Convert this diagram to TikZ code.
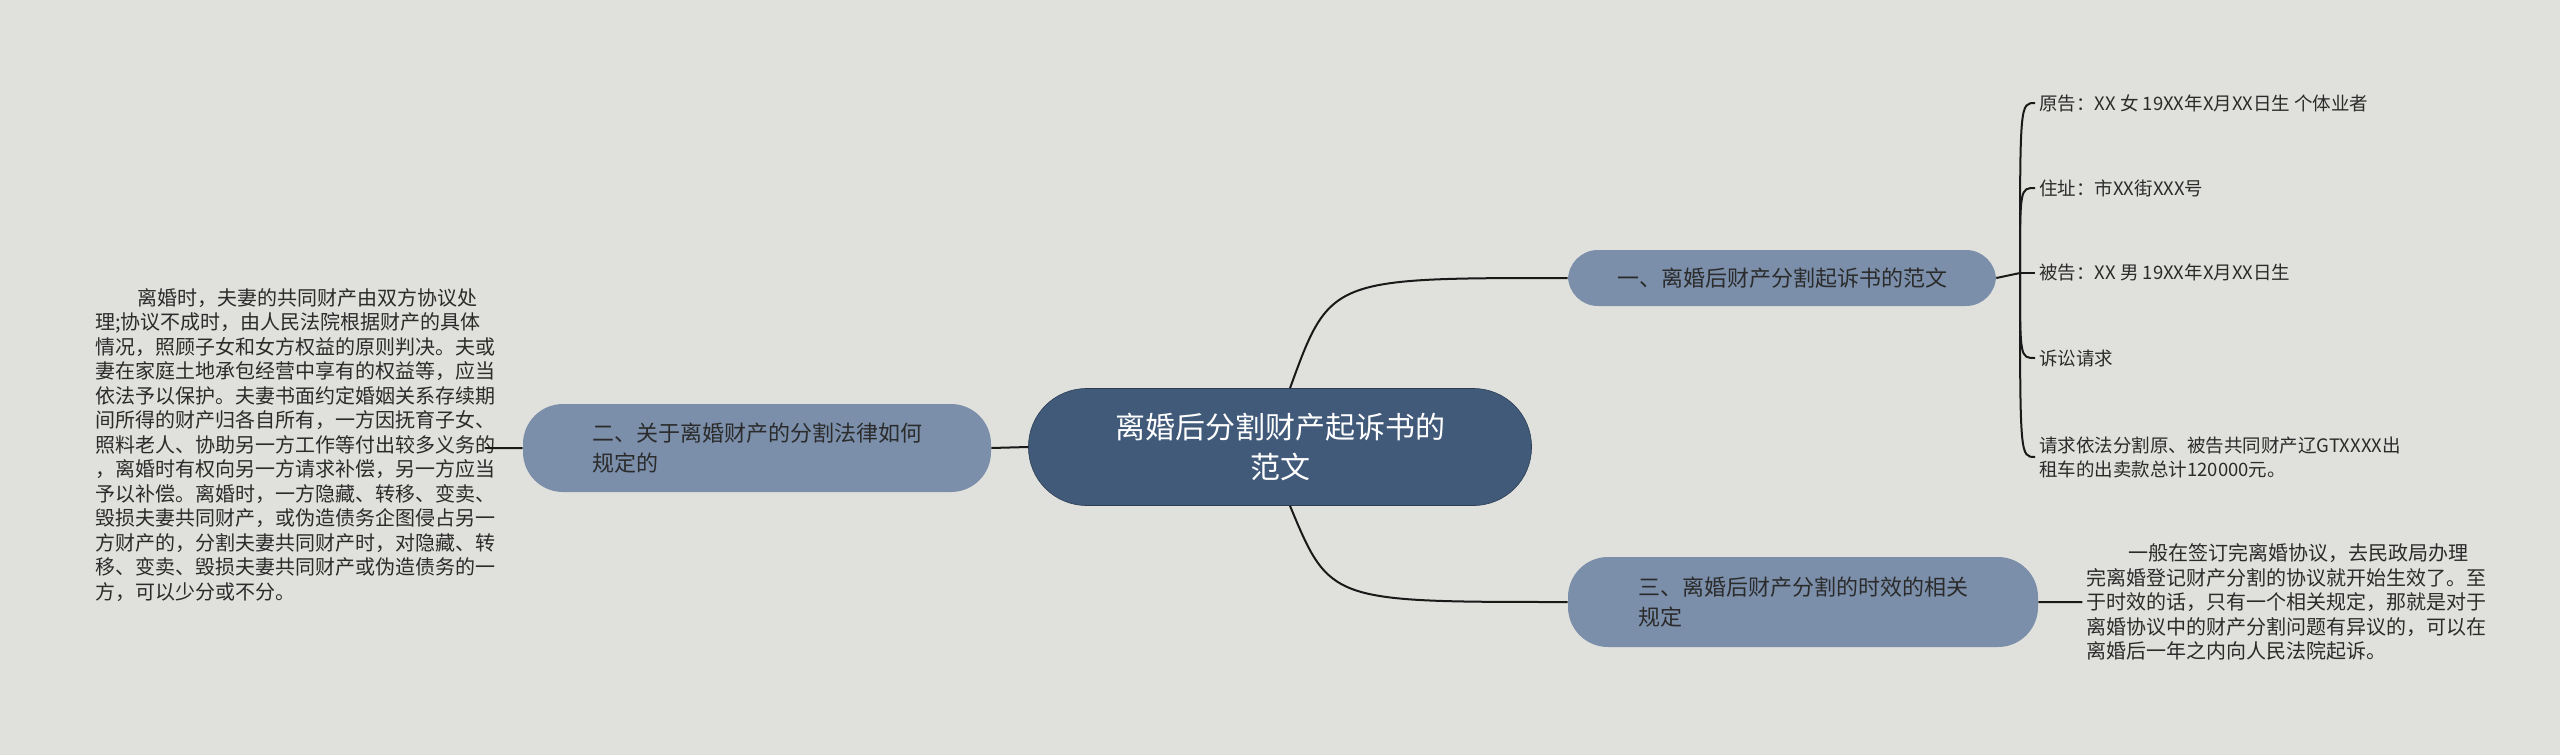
\documentclass[tikz,border=0pt]{standalone}
\usepackage{fontspec}
\setmainfont{Noto Sans CJK SC}
\usetikzlibrary{positioning,calc}
\definecolor{bgcol}{HTML}{E0E1DC}
\definecolor{rootcol}{HTML}{415A7A}
\definecolor{subcol}{HTML}{7B8FAB}
\definecolor{txtcol}{HTML}{2B2B2B}
\begin{document}
\begin{tikzpicture}[
		x=1pt,y=-1pt,
		semithick,
		root/.style={rounded corners=58pt,fill=rootcol,draw=rootcol!70!black,text=white,minimum width=503pt,minimum height=117pt,align=center,font=\fontsize{30}{40}\selectfont},
		sub/.style={rounded corners=30pt,fill=subcol,text=txtcol,minimum height=56pt,align=left,font=\fontsize{22}{30}\selectfont},
		leaf/.style={anchor=west,inner sep=0pt,text=txtcol,align=left,font=\fontsize{18.5}{24}\selectfont},
		note/.style={inner sep=0pt,text=txtcol,align=left,font=\fontsize{20}{24.5}\selectfont},
		link/.style={draw=black!90,line width=2pt}
		]
		\fill[bgcol] (0,0) rectangle (2560,755);
		\useasboundingbox (0,0) rectangle (2560,755);
		\node[root](r) at (1280,447){离婚后分割财产起诉书的\\范文};
		\node[sub,minimum width=428pt](s1) at (1782,278){一、离婚后财产分割起诉书的范文};
		\node[sub,minimum width=468pt,minimum height=88pt,rounded corners=40pt](s2) at (757,448){二、关于离婚财产的分割法律如何\\规定的};
		\node[sub,minimum width=470pt,minimum height=90pt,rounded corners=40pt](s3) at (1803,602){三、离婚后财产分割的时效的相关\\规定};
		% right leaves of s1
		\node[leaf](l1) at (2039,103){原告：XX 女 19XX年X月XX日生 个体业者};
		\node[leaf](l2) at (2039,188){住址：市XX街XXX号};
		\node[leaf](l3) at (2039,273){被告：XX 男 19XX年X月XX日生};
		\node[leaf](l4) at (2039,358){诉讼请求};
		\node[leaf](l5) at (2039,457){请求依法分割原、被告共同财产辽GTXXXX出\\租车的出卖款总计120000元。};
		\coordinate (sp) at (2020,273);
		% notes
		\node[note,anchor=north west](n2) at (95,288){\hspace{42pt}离婚时，夫妻的共同财产由双方协议处\\理;协议不成时，由人民法院根据财产的具体\\情况，照顾子女和女方权益的原则判决。夫或\\妻在家庭土地承包经营中享有的权益等，应当\\依法予以保护。夫妻书面约定婚姻关系存续期\\间所得的财产归各自所有，一方因抚育子女、\\照料老人、协助另一方工作等付出较多义务的\\，离婚时有权向另一方请求补偿，另一方应当\\予以补偿。离婚时，一方隐藏、转移、变卖、\\毁损夫妻共同财产，或伪造债务企图侵占另一\\方财产的，分割夫妻共同财产时，对隐藏、转\\移、变卖、毁损夫妻共同财产或伪造债务的一\\方，可以少分或不分。};
		\node[note,anchor=west](n3) at (2086,602){\hspace{42pt}一般在签订完离婚协议，去民政局办理\\完离婚登记财产分割的协议就开始生效了。至\\于时效的话，只有一个相关规定，那就是对于\\离婚协议中的财产分割问题有异议的，可以在\\离婚后一年之内向人民法院起诉。};
		\path[link]
		(r.west) -- (s2.east)
		(s2.west) -- ++(-38,0)
		(s3.east) -- ++(44,0)
		(s1.east) -- (sp)
		;
		\draw[link] ($(r.north)+(10,0)$) .. controls (1330,278) .. (s1.west);
		\draw[link] ($(r.south)+(10,0)$) .. controls (1330,602) .. (s3.west);
		\foreach \l in {l1,l2,l3,l4,l5}
		\draw[link] (sp) .. controls (sp|-\l.west) .. ($(\l.west)+(-4,0)$);
		\end{tikzpicture}
\end{document}
